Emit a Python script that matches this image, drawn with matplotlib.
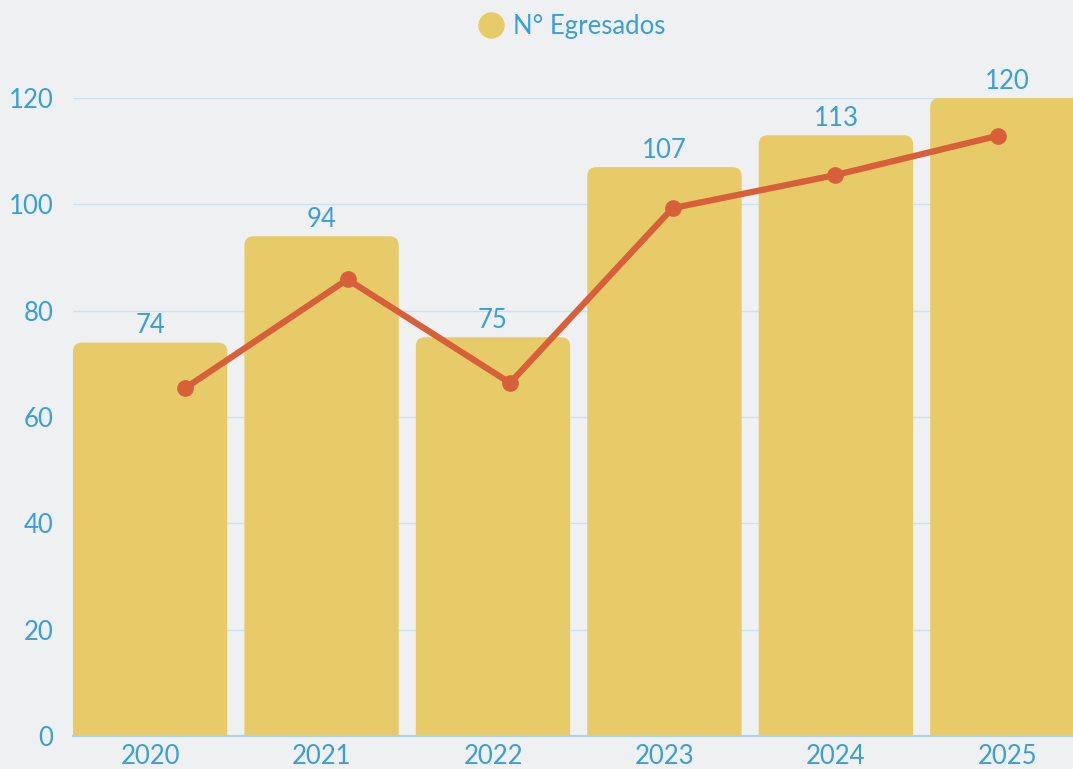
import matplotlib
matplotlib.use('Agg')
import matplotlib.pyplot as plt
from matplotlib.patches import FancyBboxPatch
from matplotlib.lines import Line2D

years = ['2020', '2021', '2022', '2023', '2024', '2025']
egresados = [74, 94, 75, 107, 113, 120]
tendencia = [65.4, 85.9, 66.4, 99.3, 105.5, 112.9]
y_ticks = [0, 20, 40, 60, 80, 100, 120]

bg = '#eef0f2'
bar_color = '#e8cb69'
line_color = '#d7603a'
text_color = '#3a9fd8'
grid_color = '#cbe3f0'

plt.rcParams['font.family'] = ['Lato', 'DejaVu Sans']

fig = plt.figure(figsize=(10.73, 7.69), dpi=100, facecolor=bg)
ax = fig.add_axes([0.0680, 0.0429, 0.9427, 0.8296])
ax.set_facecolor(bg)

x = list(range(len(years)))
bars = ax.bar(x, egresados, width=0.9, color=bar_color, zorder=2)
ax.set_xlim(-0.45, 5.45)
ax.set_ylim(0, 120)

# rounded top corners: swap each bar for a rounded box of the same size
px_x = 1011.5 / 5.9
px_y = 638 / 120
r = 9 / px_x
for b in bars:
    b.set_visible(False)
    box = FancyBboxPatch((b.get_x(), -5), b.get_width(), b.get_height() + 5,
                         boxstyle='round,pad=0,rounding_size=%f' % r,
                         mutation_aspect=px_x / px_y,
                         facecolor=bar_color, edgecolor='none', zorder=2)
    ax.add_patch(box)

for xi, v in zip(x, egresados):
    ax.annotate(str(v), (xi, v), xytext=(0, 3), textcoords='offset points',
                ha='center', va='bottom', fontsize=18.5, color=text_color)

ax.set_yticks(y_ticks)
ax.set_xticks(x)
ax.set_xticklabels(years)
ax.tick_params(axis='both', length=0, labelsize=18.5, labelcolor=text_color)
ax.tick_params(axis='y', pad=14)
ax.tick_params(axis='x', pad=6)
ax.grid(axis='y', color=grid_color, linewidth=1, zorder=0)
ax.set_axisbelow(True)
for s in ['top', 'right', 'left']:
    ax.spines[s].set_visible(False)
ax.spines['bottom'].set_color('#a9d3ee')
ax.spines['bottom'].set_linewidth(1.5)

# line series sits on its own category scale
ax2 = ax.twiny()
ax2.plot(x, tendencia, color=line_color, linewidth=4.5, marker='o',
         markersize=11, zorder=3)
ax2.set_xlim(-0.689, 5.534)
ax2.set_ylim(0, 120)
ax2.axis('off')

handle = Line2D([], [], linestyle='none', marker='o', markersize=18,
                markerfacecolor=bar_color, markeredgecolor=bar_color)
leg = fig.legend([handle], ['N° Egresados'], loc='center',
                 bbox_to_anchor=(0.533, 0.965), frameon=False,
                 fontsize=18.5, handlelength=1.0, handletextpad=0.35)
for t in leg.get_texts():
    t.set_color(text_color)

fig.savefig('out.png', dpi=100, facecolor=bg)
